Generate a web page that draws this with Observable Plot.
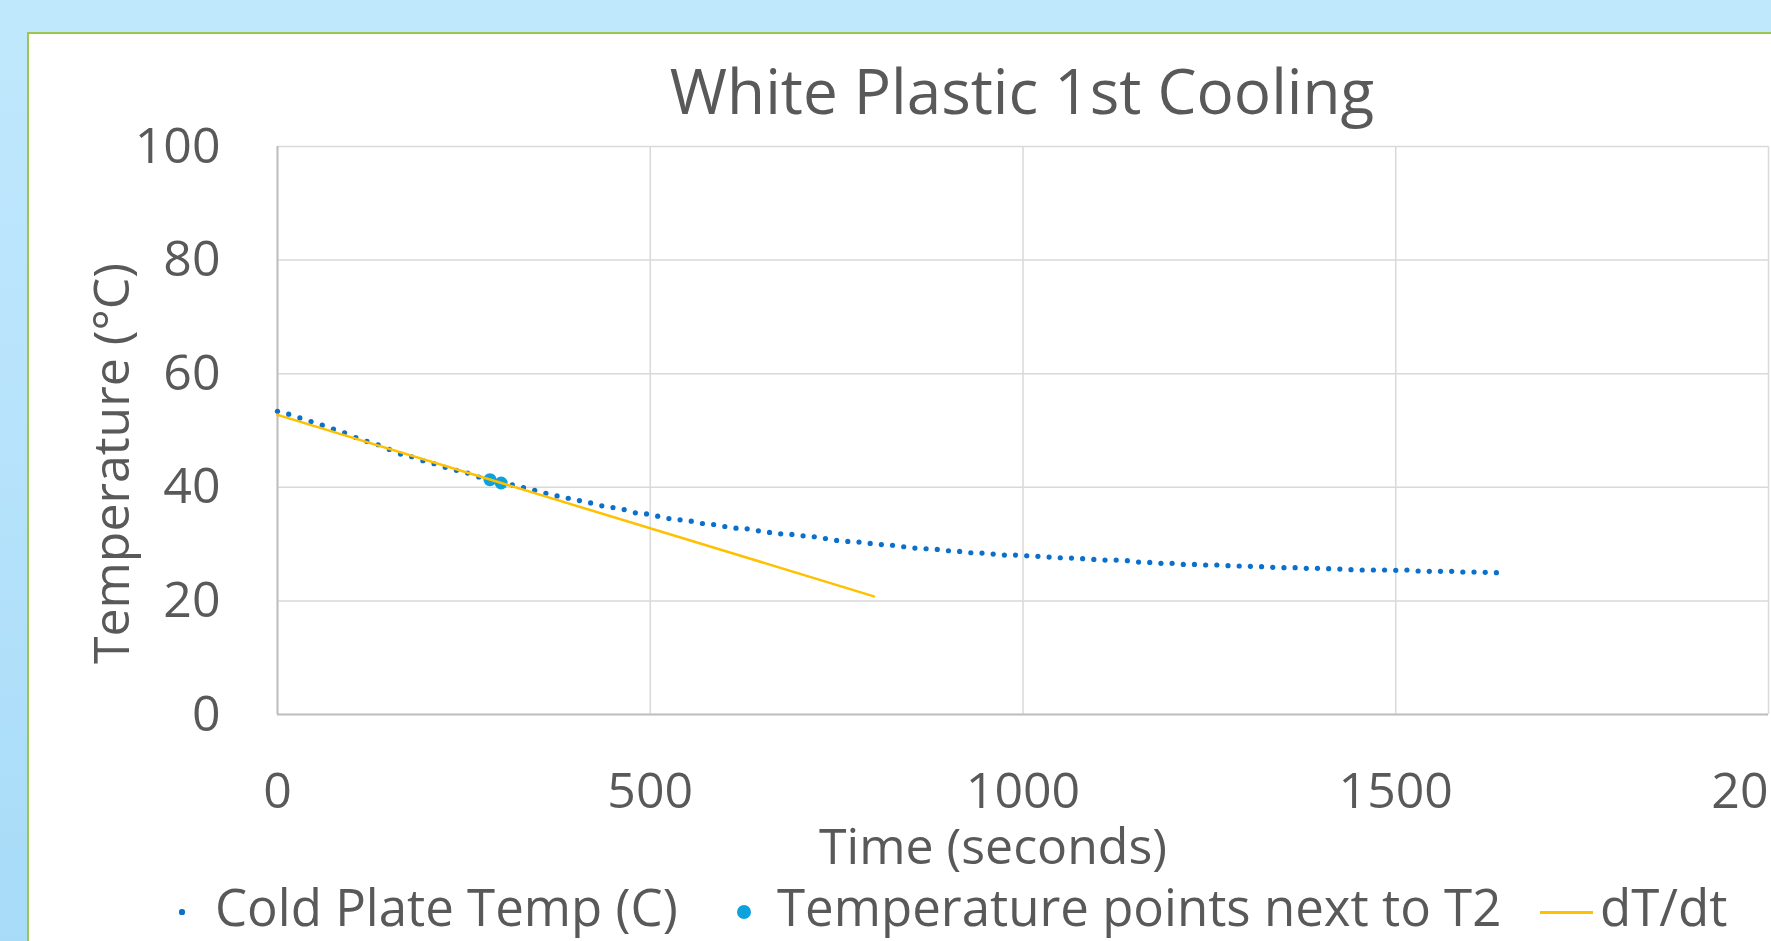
<!DOCTYPE html>
<html>
<head>
<meta charset="utf-8">
<script src="https://cdn.jsdelivr.net/npm/d3@7"></script>
<script src="https://cdn.jsdelivr.net/npm/@observablehq/plot@0.6"></script>
<style>
  html, body { margin: 0; padding: 0; }
  body {
    width: 1771px; height: 941px; overflow: hidden; position: relative;
    background: linear-gradient(180deg, #C0E8FD 0%, #B6E2FB 50%, #A7DBF8 100%);
    font-family: "Open Sans", sans-serif;
  }
  #box {
    position: absolute; left: 27px; top: 32px; width: 1800px; height: 1000px;
    border: 2px solid #9DC64E; background: #ffffff;
  }
  #title {
    position: absolute; left: 1022px; top: 59px; transform: translateX(-50%);
    font-size: 62px; line-height: 62px; color: #595959; white-space: nowrap;
  }
  #chart { position: absolute; left: 0; top: 0; }
  .leg { position: absolute; top: 881px; font-size: 51px; line-height: 50px; color: #595959; white-space: nowrap; }
  .mk { position: absolute; }
</style>
</head>
<body>
<div id="box"></div>
<div id="title">White Plastic 1st Cooling</div>
<div id="chart"></div>
<div id="legend"></div>
<script>
// ---- Data ----
const coldTime = [0,15,30,45,60,75,90,105,120,135,150,165,180,195,210,225,240,255,270,285,300,315,330,345,360,375,390,405,420,435,450,465,480,495,510,525,540,555,570,585,600,615,630,645,660,675,690,705,720,735,750,765,780,795,810,825,840,855,870,885,900,915,930,945,960,975,990,1005,1020,1035,1050,1065,1080,1095,1110,1125,1140,1155,1170,1185,1200,1215,1230,1245,1260,1275,1290,1305,1320,1335,1350,1365,1380,1395,1410,1425,1440,1455,1470,1485,1500,1515,1530,1545,1560,1575,1590,1605,1620,1635];
const coldTemp = [53.39,52.87,52.22,51.58,50.94,50.23,49.59,48.77,48.07,47.49,46.67,45.85,45.38,44.68,44.15,43.51,42.98,42.51,41.81,41.35,40.76,40.41,39.94,39.47,38.95,38.48,38.07,37.66,37.25,36.73,36.43,36.08,35.50,35.32,34.91,34.50,34.27,34.04,33.63,33.45,33.10,32.81,32.69,32.34,32.05,31.81,31.70,31.46,31.29,30.99,30.64,30.47,30.35,30.12,29.91,29.80,29.53,29.30,29.18,29.06,28.83,28.71,28.48,28.42,28.25,28.07,28.07,27.95,27.84,27.72,27.60,27.54,27.43,27.31,27.19,27.19,27.08,26.84,26.78,26.61,26.61,26.43,26.43,26.32,26.32,26.20,26.14,26.08,26.02,25.91,25.85,25.85,25.73,25.73,25.67,25.61,25.50,25.44,25.44,25.44,25.38,25.44,25.26,25.20,25.20,25.20,25.09,25.09,25.03,24.97];

const t2Time = [285, 300];
const t2Temp = [41.35, 40.76];

const slopeTime = [0, 800];
const slopeTemp = [52.75, 20.8];

const xTicks = [0, 500, 1000, 1500, 2000];
const yTicks = [0, 20, 40, 60, 80, 100];

const seriesNames = ["Cold Plate Temp (C)", "Temperature points next to T2", "dT/dt"];
const seriesColors = ["#0B6FCC", "#0DA2DB", "#FFC000"];

// ---- Tables for Plot ----
const cold = coldTime.map((t, i) => ({t, T: coldTemp[i]}));
const t2 = t2Time.map((t, i) => ({t, T: t2Temp[i]}));
const slope = slopeTime.map((t, i) => ({t, T: slopeTemp[i]}));

const chart = Plot.plot({
  width: 1771,
  height: 941,
  marginLeft: 277,
  marginRight: 3,
  marginTop: 146,
  marginBottom: 227,
  x: {domain: [0, 2000]},
  y: {domain: [0, 100]},
  style: {
    fontFamily: "'Open Sans', sans-serif",
    fontSize: "50px",
    color: "#595959",
    background: "transparent",
    overflow: "visible"
  },
  marks: [
    Plot.ruleX(xTicks, {stroke: "#D9D9D9", strokeWidth: 1.5}),
    Plot.ruleY(yTicks, {stroke: "#D9D9D9", strokeWidth: 1.5}),
    Plot.ruleX([0], {stroke: "#BFBFBF", strokeWidth: 2}),
    Plot.ruleY([0], {stroke: "#BFBFBF", strokeWidth: 2}),
    Plot.axisX({ticks: xTicks, tickSize: 0, tickPadding: 58, tickFormat: d => String(d),
      label: "Time (seconds)", labelAnchor: "center", labelOffset: 149, labelArrow: "none"}),
    Plot.axisY({ticks: yTicks, tickSize: 0, tickPadding: 57, tickFormat: d => String(d),
      label: "Temperature (°C)", labelAnchor: "center", labelOffset: 184, labelArrow: "none"}),
    Plot.dot(cold, {x: "t", y: "T", r: 2.6, fill: seriesColors[0]}),
    Plot.dot(t2, {x: "t", y: "T", r: 6.5, fill: seriesColors[1]}),
    Plot.line(slope, {x: "t", y: "T", stroke: seriesColors[2], strokeWidth: 2.5})
  ]
});
document.getElementById("chart").appendChild(chart);

// shift axis titles to match the reference's placement
const yl = chart.querySelector('[aria-label="y-axis label"] text');
if (yl) yl.setAttribute("dx", "-33");
const xl = chart.querySelector('[aria-label="x-axis label"] text');
if (xl) xl.setAttribute("dx", "-30");

// ---- Legend (HTML) ----
const legend = document.getElementById("legend");
const legItems = [
  {name: seriesNames[0], color: seriesColors[0], kind: "dot", r: 2.6, cx: 182, textLeft: 215},
  {name: seriesNames[1], color: seriesColors[1], kind: "dot", r: 7, cx: 744, textLeft: 777},
  {name: seriesNames[2], color: seriesColors[2], kind: "line", x1: 1540, x2: 1593, textLeft: 1600}
];
for (const it of legItems) {
  const m = document.createElement("div");
  m.className = "mk";
  if (it.kind === "dot") {
    Object.assign(m.style, {left: (it.cx - it.r) + "px", top: (912 - it.r) + "px",
      width: (2 * it.r) + "px", height: (2 * it.r) + "px", borderRadius: "50%", background: it.color});
  } else {
    Object.assign(m.style, {left: it.x1 + "px", top: "911px", width: (it.x2 - it.x1) + "px",
      height: "2.5px", background: it.color});
  }
  legend.appendChild(m);
  const s = document.createElement("div");
  s.className = "leg";
  s.style.left = it.textLeft + "px";
  s.textContent = it.name;
  legend.appendChild(s);
}
</script>
</body>
</html>
